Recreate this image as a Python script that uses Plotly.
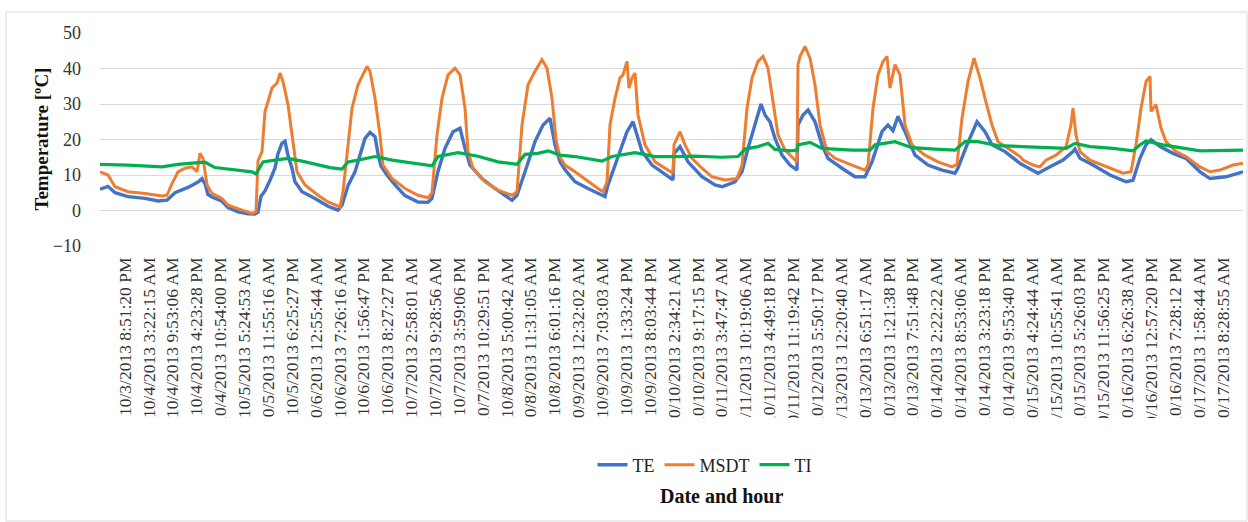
import plotly.graph_objects as go

# ---------------- data ----------------
# x = reading index (first labelled reading = 0); y = temperature in degC
tick_labels = [
    "10/3/2013 8:51:20 PM", "10/4/2013 3:22:15 AM", "10/4/2013 9:53:06 AM",
    "10/4/2013 4:23:28 PM", "10/4/2013 10:54:00 PM", "10/5/2013 5:24:53 AM",
    "10/5/2013 11:55:16 AM", "10/5/2013 6:25:27 PM", "10/6/2013 12:55:44 AM",
    "10/6/2013 7:26:16 AM", "10/6/2013 1:56:47 PM", "10/6/2013 8:27:27 PM",
    "10/7/2013 2:58:01 AM", "10/7/2013 9:28:56 AM", "10/7/2013 3:59:06 PM",
    "10/7/2013 10:29:51 PM", "10/8/2013 5:00:42 AM", "10/8/2013 11:31:05 AM",
    "10/8/2013 6:01:16 PM", "10/9/2013 12:32:02 AM", "10/9/2013 7:03:03 AM",
    "10/9/2013 1:33:24 PM", "10/9/2013 8:03:44 PM", "10/10/2013 2:34:21 AM",
    "10/10/2013 9:17:15 PM", "10/11/2013 3:47:47 AM", "10/11/2013 10:19:06 AM",
    "10/11/2013 4:49:18 PM", "10/11/2013 11:19:42 PM", "10/12/2013 5:50:17 PM",
    "10/13/2013 12:20:40 AM", "10/13/2013 6:51:17 AM", "10/13/2013 1:21:38 PM",
    "10/13/2013 7:51:48 PM", "10/14/2013 2:22:22 AM", "10/14/2013 8:53:06 AM",
    "10/14/2013 3:23:18 PM", "10/14/2013 9:53:40 PM", "10/15/2013 4:24:44 AM",
    "10/15/2013 10:55:41 AM", "10/15/2013 5:26:03 PM", "10/15/2013 11:56:25 PM",
    "10/16/2013 6:26:38 AM", "10/16/2013 12:57:20 PM", "10/16/2013 7:28:12 PM",
    "10/17/2013 1:58:44 AM", "10/17/2013 8:28:55 AM",
]
TICK_EVERY = 23.87  # readings between two labelled timestamps

te_idx = [-25, -17, -10, 3, 20, 33, 42, 50, 63, 73, 77, 80, 83, 87, 97, 103, 113, 123, 130,
          133, 136, 140, 145, 150, 153, 157, 160, 163, 167, 170, 177, 190, 203, 210, 213,
          217, 223, 230, 235, 240, 245, 250, 253, 256, 262, 270, 280, 293, 303, 307, 313,
          320, 328, 335, 340, 345, 357, 370, 387, 392, 400, 410, 418, 425, 430, 435, 440,
          450, 463, 473, 480, 483, 490, 497, 502, 508, 512, 517, 527, 537, 548, 549, 555,
          563, 577, 590, 597, 610, 617, 623, 630, 636, 640, 645, 650, 657, 665, 672, 673,
          678, 683, 690, 697, 703, 717, 730, 740, 747, 757, 763, 768, 773, 780, 790, 803,
          817, 830, 833, 842, 852, 860, 867, 880, 895, 901, 913, 925, 938, 948, 950, 955,
          968, 985, 1001, 1008, 1015, 1021, 1026, 1035, 1048, 1061, 1075, 1085, 1101, 1118]
te_val = [6.0, 6.8, 5.0, 3.9, 3.4, 2.7, 2.9, 5.0, 6.5, 8.0, 9.0, 7.5, 4.5, 3.8, 2.6, 0.8, -0.4, -0.9, -1.0,
          -0.5, 4.0, 5.5, 8.5, 12.0, 16.0, 19.0, 19.5, 15.5, 11.9, 8.1, 5.3, 3.4, 1.2, 0.6, 0.1,
          1.5, 7.0, 10.9, 15.5, 20.3, 22.0, 20.8, 16.0, 12.5, 10.0, 7.2, 4.2, 2.4, 2.3, 3.4, 11.0,
          17.5, 22.2, 23.2, 17.5, 12.8, 9.0, 6.2, 2.9, 4.3, 10.9, 19.4, 24.1, 26.0, 18.5, 13.7, 11.5,
          8.1, 6.2, 4.8, 3.9, 7.2, 12.8, 18.5, 22.2, 25.0, 21.3, 16.6, 12.8, 10.9, 8.6, 16.0, 18.0,
          13.7, 9.5, 7.2, 6.7, 8.1, 10.9, 17.5, 24.1, 30.0, 26.9, 25.0, 20.3, 15.6, 12.8, 11.4, 24.1,
          26.9, 28.3, 25.0, 18.5, 14.7, 11.9, 9.5, 9.5, 13.7, 22.2, 24.1, 22.5, 26.5, 22.2, 15.6, 12.8,
          11.4, 10.5, 12.0, 18.5, 25.0, 22.2, 18.5, 16.6, 13.3, 12.3, 10.5, 12.3, 14.2, 16.6, 17.3, 14.7,
          12.8, 10.0, 8.1, 8.5, 14.7, 18.5, 19.9, 18.0, 16.1, 14.7, 10.9, 9.0, 9.5, 10.9]

msdt_idx = [-25, -17, -10, 3, 20, 37, 42, 47, 53, 60, 67, 72, 75, 78, 82, 87, 97, 103, 117, 127,
            131, 133, 137, 140, 147, 152, 155, 158, 163, 168, 172, 180, 193, 203, 210, 215, 218,
            222, 227, 233, 242, 245, 250, 255, 258, 267, 280, 293, 303, 307, 312, 317, 323, 330,
            335, 340, 343, 348, 360, 373, 387, 392, 397, 403, 410, 417, 422, 427, 431, 435, 440,
            450, 463, 473, 478, 482, 485, 490, 495, 498, 502, 504, 507, 510, 513, 520, 530, 540,
            548, 549, 555, 560, 567, 577, 587, 600, 612, 617, 622, 627, 633, 638, 643, 648, 653,
            660, 667, 672, 673, 675, 680, 685, 690, 695, 702, 710, 727, 740, 743, 748, 753, 758,
            762, 765, 770, 775, 780, 787, 800, 813, 827, 832, 837, 843, 849, 855, 860, 867, 873,
            883, 895, 898, 908, 915, 921, 931, 941, 946, 948, 951, 955, 965, 981, 998, 1006, 1011,
            1016, 1021, 1025, 1026, 1031, 1036, 1041, 1051, 1061, 1075, 1085, 1095, 1108, 1118]
msdt_val = [10.9, 10.0, 6.7, 5.3, 4.8, 4.1, 4.3, 7.6, 10.9, 11.9, 12.3, 10.9, 16.1, 14.7, 7.2, 4.8, 3.4, 1.5, 0.1, -0.8,
            -0.3, 14.0, 16.6, 27.9, 34.5, 35.9, 38.7, 36.3, 29.8, 19.4, 10.9, 7.2, 4.3, 2.4, 1.5, 1.0, 5.3,
            16.6, 28.8, 35.4, 40.6, 39.2, 31.6, 21.3, 12.8, 9.0, 6.2, 4.3, 3.6, 5.0, 21.3, 31.6, 38.2, 40.1,
            38.2, 28.8, 16.6, 11.9, 8.1, 5.7, 4.3, 5.3, 24.1, 35.4, 39.2, 42.5, 40.1, 31.6, 20.0, 15.0, 12.8,
            10.9, 8.1, 6.2, 5.3, 8.0, 24.1, 31.6, 37.3, 38.2, 42.0, 34.5, 37.3, 38.7, 26.9, 18.5, 13.7, 11.9,
            10.5, 18.5, 22.2, 18.5, 14.7, 11.9, 9.5, 8.6, 9.0, 12.8, 28.8, 37.3, 42.0, 43.4, 40.1, 30.7, 21.3,
            17.0, 15.2, 13.7, 41.1, 43.4, 46.2, 42.9, 35.4, 24.1, 16.6, 14.7, 12.8, 11.4, 12.8, 28.8, 38.2, 42.0,
            43.4, 34.5, 41.1, 38.2, 24.1, 18.5, 15.6, 13.7, 12.3, 13.0, 26.0, 36.3, 42.9, 37.3, 31.6, 24.1, 19.4,
            17.5, 15.2, 14.2, 12.8, 12.3, 14.2, 15.6, 18.0, 24.1, 28.8, 21.3, 16.6, 14.2, 12.3, 10.5, 10.9, 18.5,
            28.8, 36.3, 37.8, 27.9, 29.8, 23.2, 19.4, 16.6, 15.2, 12.3, 10.9, 11.4, 12.8, 13.3]

ti_idx = [-25, 3, 37, 53, 73, 80, 90, 110, 127, 131, 138, 150, 163, 177, 205, 217, 223, 233,
          250, 267, 287, 307, 313, 333, 353, 373, 392, 400, 413, 423, 435, 450, 477, 487, 510,
          530, 550, 570, 597, 613, 620, 633, 643, 650, 665, 672, 673, 685, 697, 727, 745, 750,
          770, 787, 810, 830, 840, 853, 873, 895, 921, 941, 950, 965, 988, 1008, 1015, 1021,
          1038, 1055, 1075, 1118]
ti_val = [13.0, 12.8, 12.3, 13.0, 13.5, 13.6, 12.1, 11.4, 10.9, 10.3, 13.7, 14.2, 14.7, 13.9, 12.1, 11.7, 13.7, 14.2,
          15.2, 14.2, 13.3, 12.6, 15.2, 16.3, 15.3, 13.7, 13.0, 15.8, 16.1, 16.8, 15.6, 15.2, 13.9, 15.2, 16.3,
          15.2, 15.2, 15.3, 15.0, 15.2, 17.3, 18.0, 18.9, 17.2, 16.8, 17.0, 18.5, 19.2, 17.5, 17.0, 17.0, 18.5,
          19.4, 17.7, 17.3, 17.0, 19.4, 19.4, 18.3, 18.0, 17.7, 17.5, 18.9, 18.0, 17.5, 16.8, 18.5, 19.6,
          18.5, 17.7, 16.8, 17.0]

series_names = ["TE", "MSDT", "TI"]
series_colors = ["#4472C4", "#ED7D31", "#00B050"]

# ---------------- figure ----------------
FONT = "Liberation Serif, Times New Roman, serif"
W, H = 1248, 522
L, R, T, B = 100, 5, 33, 276
pw, ph = W - L - R, H - T - B


def px_x(p):
    return (p - L) / pw


def px_y(p):
    return (H - B - p) / ph


fig = go.Figure()
for name, color, xs, ys, wd in [
    (series_names[0], series_colors[0], te_idx, te_val, 3.4),
    (series_names[1], series_colors[1], msdt_idx, msdt_val, 3.0),
    (series_names[2], series_colors[2], ti_idx, ti_val, 3.2),
]:
    fig.add_trace(go.Scatter(x=xs, y=ys, mode="lines", name=name,
                             line=dict(color=color, width=wd)))

fig.update_layout(
    width=W, height=H,
    margin=dict(l=L, r=R, t=T, b=B),
    template="none",
    paper_bgcolor="white", plot_bgcolor="white",
    font=dict(family=FONT, color="#333333"),
    showlegend=True,
    legend=dict(orientation="h", x=px_x(705), xanchor="center", y=px_y(465),
                yanchor="middle", font=dict(size=18, color="#222222"),
                bgcolor="rgba(0,0,0,0)", traceorder="normal"),
)
fig.update_xaxes(
    range=[-25, 1118], showgrid=False, zeroline=False, showline=False,
    tickmode="array",
    tickvals=[i * TICK_EVERY for i in range(len(tick_labels))],
    ticktext=tick_labels, tickangle=-90, ticks="",
    tickfont=dict(size=17.5, color="#333333", family=FONT),
    ticklabelstandoff=7,
)
fig.update_yaxes(
    range=[-10, 50], dtick=10, tick0=0, showgrid=True, gridcolor="#D9D9D9", gridwidth=1.2,
    zeroline=False, showline=False, ticks="",
    tickfont=dict(size=18, color="#333333", family=FONT),
    ticklabelstandoff=18,
)

# axis titles
fig.add_annotation(text="<b>Temperature [ºC]</b>", xref="paper", yref="paper",
                   x=px_x(41), y=0.5, xanchor="center", yanchor="middle",
                   textangle=-90, showarrow=False,
                   font=dict(size=19, color="#111111", family=FONT))
fig.add_annotation(text="<b>Date and hour</b>", xref="paper", yref="paper",
                   x=px_x(722), y=px_y(496), xanchor="center", yanchor="middle",
                   showarrow=False,
                   font=dict(size=20, color="#111111", family=FONT))

# clip of overlong tick labels (as in the reference) and chart-area border
fig.add_shape(type="rect", xref="paper", yref="paper",
              x0=px_x(100), x1=px_x(1243), y0=px_y(447), y1=px_y(418),
              fillcolor="white", line=dict(width=0), layer="above")
fig.add_shape(type="rect", xref="paper", yref="paper",
              x0=px_x(6), x1=px_x(1247), y0=px_y(521), y1=px_y(12),
              line=dict(color="#D9D9D9", width=1), fillcolor="rgba(0,0,0,0)", layer="below")

fig.write_html("out.html", config={"displayModeBar": False},
               post_script="document.body.style.margin='0';")
